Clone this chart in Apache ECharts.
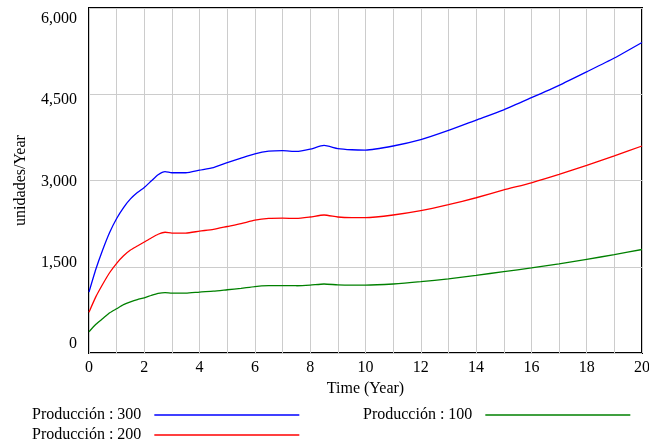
<!DOCTYPE html>
<html>
<head>
<meta charset="utf-8">
<script src="https://cdn.jsdelivr.net/npm/echarts@6/dist/echarts.min.js"></script>
<style>html,body{margin:0;padding:0;background:#fff;}#c{width:649px;height:445px;}</style>
</head>
<body>
<div id="c"></div>
<script>
var years = [0,0.25,0.5,0.75,1,1.25,1.5,1.75,2,2.25,2.5,2.75,3,3.5,4,4.5,5,5.5,6,6.5,7,7.5,8,8.5,9,9.5,10,11,12,13,14,15,16,17,18,19,20];
var prod300 = [1060,1460,1800,2100,2340,2530,2680,2790,2880,2990,3100,3155,3135,3135,3180,3225,3310,3390,3465,3510,3520,3505,3545,3610,3555,3535,3530,3600,3710,3870,4050,4230,4440,4655,4890,5130,5400];
var prod200 = [710,980,1200,1400,1560,1690,1790,1860,1930,2000,2065,2100,2085,2085,2120,2150,2200,2250,2310,2340,2345,2340,2365,2400,2365,2355,2355,2400,2475,2580,2700,2835,2960,3105,3265,3430,3600];
var prod100 = [370,500,600,700,770,840,890,930,960,1000,1035,1050,1040,1040,1060,1075,1100,1125,1155,1170,1172,1170,1180,1200,1185,1180,1180,1200,1240,1290,1350,1415,1480,1550,1630,1710,1800];
var yTicks = [0,1500,3000,4500,6000];
var names = ['Producción : 300','Producción : 200','Producción : 100'];
var colors = ['#0000ff','#ff0000','#008000'];

function pairs(vals){ return years.map(function(t,i){ return [t, vals[i]]; }); }
var FONT = 'Liberation Serif';
var FS = 16;
function fmt(v){ return v.toLocaleString('en-US'); }

var chart = echarts.init(document.getElementById('c'), null, {renderer:'canvas'});
function legendOf(name, left, top){
  return {
    data:[name], left:left, top:top, align:'right', orient:'horizontal',
    icon:'rect', itemWidth:145, itemHeight:1.3, padding:0,
    textStyle:{fontFamily:FONT, fontSize:FS, color:'#000', lineHeight:18, padding:[0,8,0,0]},
    selectedMode:false
  };
}
chart.setOption({
  animation:false,
  backgroundColor:'#fff',
  grid:{left:89, right:7, top:8, bottom:92, outerBoundsMode:'none', containLabel:false,
    show:true, borderColor:'#000', borderWidth:2, backgroundColor:'transparent'},
  legend:[legendOf(names[0],32,406), legendOf(names[1],32,426), legendOf(names[2],363,406)],
  xAxis:{
    type:'value', min:0, max:20, interval:1,
    name:'Time (Year)', nameLocation:'middle', nameGap:27,
    nameTextStyle:{fontFamily:FONT, fontSize:FS, color:'#000'},
    axisLine:{show:false}, axisTick:{show:false},
    splitLine:{show:true, lineStyle:{color:'#cccccc', width:1}},
    axisLabel:{fontFamily:FONT, fontSize:FS, color:'#000', margin:7,
      formatter:function(v){ return (v % 2 === 0) ? String(v) : ''; }}
  },
  yAxis:[{
    type:'value', min:0, max:6000, interval:1500,
    name:'unidades/Year', nameLocation:'middle', nameGap:60,
    nameTextStyle:{fontFamily:FONT, fontSize:FS, color:'#000'},
    axisLine:{show:false}, axisTick:{show:false},
    splitLine:{show:true, lineStyle:{color:'#cccccc', width:1}},
    axisLabel:{show:false}
  },{
    type:'value', min:-166, max:6203, position:'left',
    axisLine:{show:false}, axisTick:{show:false}, splitLine:{show:false},
    axisLabel:{show:true, customValues:yTicks, fontFamily:FONT, fontSize:FS, color:'#000', margin:12,
      formatter:function(v){ return fmt(v); }}
  }],
  series:[prod300, prod200, prod100].map(function(d,i){
    return {name:names[i], type:'line', data:pairs(d), showSymbol:false, smooth:0.2,
      xAxisIndex:0, yAxisIndex:0, color:colors[i],
      lineStyle:{color:colors[i], width:1.3}, itemStyle:{color:colors[i]}};
  })
});
</script>
</body>
</html>
